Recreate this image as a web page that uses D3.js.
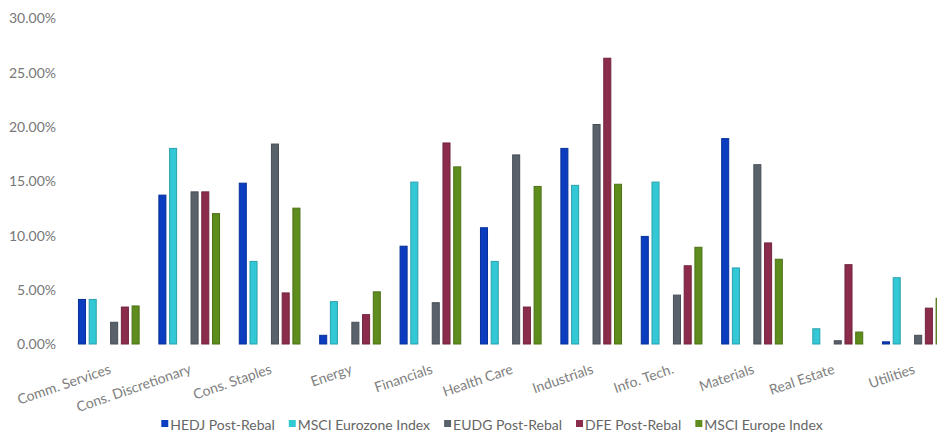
<!DOCTYPE html>
<html>
<head>
<meta charset="utf-8">
<script src="https://cdn.jsdelivr.net/npm/d3@7"></script>
<style>
  body { margin: 0; background: #fff; }
  svg text { font-family: Lato, "Open Sans", sans-serif; }
</style>
</head>
<body>
<div id="chart"></div>
<script>
// 数据
var categories = ['Comm. Services', 'Cons. Discretionary', 'Cons. Staples', 'Energy', 'Financials',
  'Health Care', 'Industrials', 'Info. Tech.', 'Materials', 'Real Estate', 'Utilities'];
var seriesNames = ['HEDJ Post-Rebal', 'MSCI Eurozone Index', 'EUDG Post-Rebal', 'DFE Post-Rebal', 'MSCI Europe Index'];
var hedj     = [4.1, 13.7, 14.8, 0.8, 9.0, 10.7, 18.0, 9.9, 18.9, 0.0, 0.2];
var eurozone = [4.1, 18.0, 7.6, 3.9, 14.9, 7.6, 14.6, 14.9, 7.0, 1.4, 6.1];
var eudg     = [2.0, 14.0, 18.4, 2.0, 3.8, 17.4, 20.2, 4.5, 16.5, 0.3, 0.8];
var dfe      = [3.4, 14.0, 4.7, 2.7, 18.5, 3.4, 26.3, 7.2, 9.3, 7.3, 3.3];
var europe   = [3.5, 12.0, 12.5, 4.8, 16.3, 14.5, 14.7, 8.9, 7.8, 1.1, 4.2];
var yTicks = [0, 5, 10, 15, 20, 25, 30];
var colors = ['#0a3dbf', '#33c8d6', '#59616a', '#8c2c4d', '#5e8d1d'];

var width = 937, height = 436;
var allSeries = [hedj, eurozone, eudg, dfe, europe];
// 第三个位置是空的
var slots = ['s0', 's1', 'gap', 's2', 's3', 's4'];
var slotOf = ['s0', 's1', 's2', 's3', 's4'];

var svg = d3.select('#chart').append('svg')
  .attr('width', width)
  .attr('height', height);

var x0 = d3.scaleBand()
  .domain(categories)
  .range([68.6, 953])
  .paddingInner(0.233)
  .paddingOuter(0.1165);
var x1 = d3.scaleBand()
  .domain(slots)
  .range([0, x0.bandwidth()])
  .paddingInner(0.25)
  .paddingOuter(0);
var y = d3.scaleLinear()
  .domain([0, 30])
  .range([344, 18]);

// y 轴
var yAxis = d3.axisLeft(y)
  .tickValues(yTicks)
  .tickSize(0)
  .tickPadding(0)
  .tickFormat(function (d) { return d.toFixed(2) + '%'; });
var gy = svg.append('g')
  .attr('transform', 'translate(56,0)')
  .call(yAxis);
gy.select('.domain').remove();
gy.selectAll('text')
  .attr('fill', '#777')
  .attr('font-size', 14)
  .attr('dy', '0.35em');

// 柱子
var rows = [];
categories.forEach(function (c, i) {
  allSeries.forEach(function (s, k) {
    rows.push({ cat: c, k: k, v: s[i] });
  });
});
svg.append('g')
  .selectAll('rect')
  .data(rows.filter(function (d) { return d.v > 0; }))
  .enter()
  .append('rect')
  .attr('x', function (d) { return x0(d.cat) + x1(slotOf[d.k]) + 0.5; })
  .attr('y', function (d) { return y(d.v); })
  .attr('width', x1.bandwidth() - 1)
  .attr('height', function (d) { return y(0) - y(d.v); })
  .attr('fill', function (d) { return colors[d.k]; })
  .attr('stroke', function (d) { return d3.color(colors[d.k]).darker(0.6); })
  .attr('stroke-width', 1);

// x 轴标签
var xAxis = d3.axisBottom(x0).tickSize(0).tickPadding(0);
var gx = svg.append('g')
  .call(xAxis);
gx.select('.domain').remove();
gx.selectAll('.tick text')
  .attr('fill', '#808080')
  .attr('font-size', 14)
  .attr('text-anchor', 'end')
  .attr('y', 0)
  .attr('dy', 0)
  .attr('transform', 'translate(3,373) rotate(-19)');

// 图例
var legend = svg.append('g').attr('transform', 'translate(0,425)');
var items = legend.selectAll('g')
  .data(seriesNames)
  .enter()
  .append('g');
items.append('rect')
  .attr('y', -5)
  .attr('width', 7)
  .attr('height', 7)
  .attr('fill', function (d, i) { return colors[i]; });
items.append('text')
  .attr('x', 9)
  .attr('y', 0)
  .attr('dy', '0.35em')
  .attr('font-size', 14)
  .attr('fill', '#666')
  .text(function (d) { return d; });
var widths = [];
items.each(function () { widths.push(this.getBBox().width); });
var gap = 14;
var total = d3.sum(widths) + gap * (widths.length - 1);
var cx = 492 - total / 2;
items.attr('transform', function (d, i) {
  var xx = cx;
  cx += widths[i] + gap;
  return 'translate(' + xx + ',0)';
});
</script>
</body>
</html>
